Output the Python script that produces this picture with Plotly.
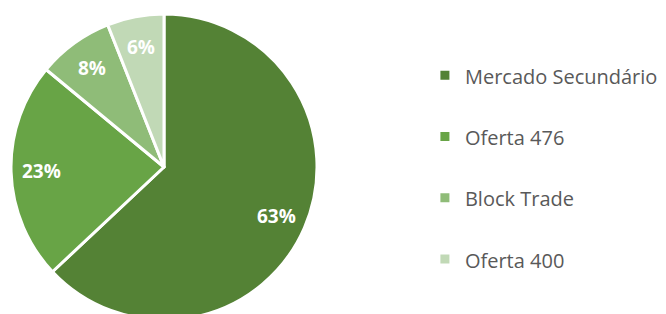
import math
import plotly.graph_objects as go

categories = ["Mercado Secundário", "Oferta 476", "Block Trade", "Oferta 400"]
values = [63, 23, 8, 6]
colors = ["#548235", "#68A446", "#8FBC78", "#C1D9B6"]

W, H = 666, 314
dom_x = [3 / W, 309 / W]
dom_y = [2 / H, 308 / H]
label_r = 0.8  # fraction of radius where the percentage labels sit

legend_labels = [f"<span style='font-size:20px'>{c}</span><br> " for c in categories]

fig = go.Figure(go.Pie(
    labels=legend_labels,
    values=values,
    sort=False,
    direction="clockwise",
    rotation=0,
    marker=dict(colors=colors, line=dict(color="white", width=3)),
    textinfo="none",
    domain=dict(x=dom_x, y=dom_y),
    hoverinfo="skip",
))

# percentage labels placed along each slice's mid-angle
total = sum(values)
cx = (dom_x[0] + dom_x[1]) / 2 * W
cy = (dom_y[0] + dom_y[1]) / 2 * H
R = min((dom_x[1] - dom_x[0]) * W, (dom_y[1] - dom_y[0]) * H) / 2
cum = 0
for v in values:
    mid = (cum + v / 2) / total * 2 * math.pi
    cum += v
    px = cx + label_r * R * math.sin(mid)
    py = cy + label_r * R * math.cos(mid)
    fig.add_annotation(
        x=px / W, y=py / H, xref="paper", yref="paper",
        text=f"{round(100 * v / total)}%", showarrow=False,
        xanchor="center", yanchor="middle",
        font=dict(family="Open Sans", size=19, color="white", weight="bold"),
    )

fig.update_layout(
    width=W, height=H,
    margin=dict(l=0, r=0, t=0, b=0),
    paper_bgcolor="white",
    plot_bgcolor="white",
    font=dict(family="Open Sans", color="#595959"),
    showlegend=True,
    legend=dict(
        x=0.626, xanchor="left",
        y=0.447, yanchor="middle",
        font=dict(family="Open Sans", size=22.4, color="#595959"),
        valign="top",
        bgcolor="rgba(0,0,0,0)",
    ),
)

fig.write_html("out.html")
